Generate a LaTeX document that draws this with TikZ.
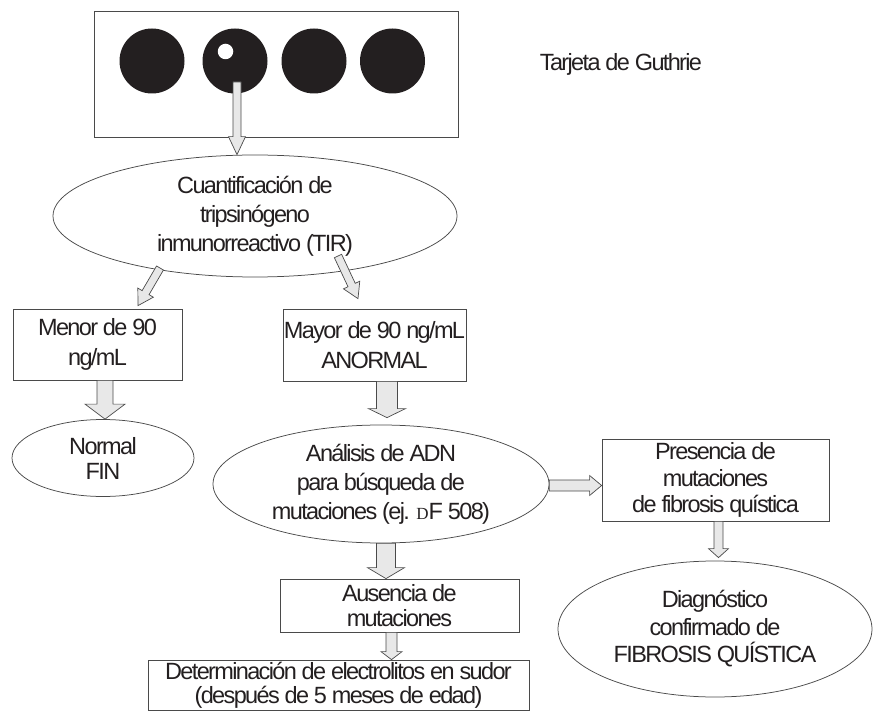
\documentclass[tikz,border=0pt]{standalone}
\usepackage{fontspec}
\setmainfont{Liberation Sans}[LetterSpace=-7]
\newfontfamily\serifD{Liberation Serif}
\usetikzlibrary{calc,shapes.geometric}
\definecolor{ink}{HTML}{231F20}
\definecolor{edge}{HTML}{4A4A4A}
\definecolor{afill}{HTML}{E8E8E8}
\newcommand\txtsize[1]{\fontsize{23.5}{#1}\selectfont}
\begin{document}
\begin{tikzpicture}[x=1pt,y=-1pt,
  box/.style={draw=edge, line width=0.75pt, rectangle, inner sep=0pt, align=center, text=ink},
  oval/.style={draw=edge, line width=0.75pt, ellipse, inner sep=0pt, align=center, text=ink},
  lbl/.style={text=ink, inner sep=0pt, font=\txtsize{26}},
  spot/.style={circle, fill=ink, minimum size=65pt, inner sep=0pt},
  hole/.style={circle, fill=white, minimum size=15.5pt, inner sep=0pt},
  barrow/.style n args={3}{draw=edge, fill=afill, line width=0.7pt, line join=miter,
    to path={let \p1=(\tikztostart), \p2=(\tikztotarget),
      \n1={atan2(\y2-\y1,\x2-\x1)}, \n2={veclen(\x2-\x1,\y2-\y1)-#3} in
      -- ($(\p1)+(\n1+90:#1 pt)$)
      -- ($(\p1)+(\n1:\n2)+(\n1+90:#1 pt)$)
      -- ($(\p1)+(\n1:\n2)+(\n1+90:#2 pt)$)
      -- (\p2)
      -- ($(\p1)+(\n1:\n2)+(\n1-90:#2 pt)$)
      -- ($(\p1)+(\n1:\n2)+(\n1-90:#1 pt)$)
      -- ($(\p1)+(\n1-90:#1 pt)$)
      -- cycle}}
]
\useasboundingbox (0,0) rectangle (873,711);

% Guthrie card
\node[box, minimum width=364, minimum height=126] (card) at (276,74) {};
\node[spot] (s1) at (152,61) {};
\node[spot] (s2) at (235,61) {};
\node[spot] (s3) at (314,61) {};
\node[spot] (s4) at (392.5,61) {};
\node[hole] (h2) at (225.5,51.5) {};
\node[lbl] (tarjeta) at (621,64) {Tarjeta de Guthrie};

% main nodes
\node[oval, minimum width=404, minimum height=122, font=\txtsize{29}] (tir) at (255,216)
  {Cuantificación de\\tripsinógeno\\inmunorreactivo (TIR)};
\node[box, minimum width=169, minimum height=71, font=\txtsize{30}] (menor) at (97.5,344.5)
  {Menor de 90\\ng/mL};
\node[box, minimum width=183, minimum height=72, font=\txtsize{30}] (mayor) at (374.5,345)
  {Mayor de 90 ng/mL\\ANORMAL};
\node[oval, minimum width=182, minimum height=77, font=\txtsize{25}] (normal) at (103,458)
  {Normal\\FIN};
\node[oval, minimum width=336, minimum height=118, font=\txtsize{29}] (dna) at (381,484)
  {Análisis de ADN\\para búsqueda de\\mutaciones (ej. {\serifD\fontsize{17}{17}\selectfont D}F 508)};
\node[box, minimum width=227, minimum height=82, font=\txtsize{26.5}] (pres) at (715.5,480)
  {Presencia de\\mutaciones\\de fibrosis quística};
\node[oval, minimum width=314, minimum height=136, font=\txtsize{27.5}] (diag) at (715,629)
  {Diagnóstico\\confirmado de\\FIBROSIS QUÍSTICA};
\node[box, minimum width=239, minimum height=53, font=\txtsize{25}] (aus) at (399.5,605.5)
  {Ausencia de\\mutaciones};
\node[box, minimum width=381, minimum height=50, font=\txtsize{24}] (det) at (338.5,685)
  {Determinación de electrolitos en sudor\\(después de 5 meses de edad)};

% block arrows
\draw[barrow={4}{8.5}{18}] ($(s2.center)+(2,21)$) to ($(tir.north)+(-18,0)$);
\draw[barrow={4}{9}{15}] ($(tir.center)+(-95,52)$) to ($(menor.north)+(40.5,-3)$);
\draw[barrow={4}{9}{15}] ($(tir.center)+(83,40)$) to ($(mayor.north)+(-16.5,-10)$);
\draw[barrow={8}{20}{15}] ($(menor.south)+(7.5,0)$) to ($(normal.north)+(2,0)$);
\draw[barrow={10.5}{18.5}{9}] ($(mayor.south)+(12.5,0)$) to ($(dna.north)+(6,-7)$);
\draw[barrow={9.5}{18.5}{11}] ($(dna.south)+(5,0)$) to ($(aus.north)+(-13.5,0)$);
\draw[barrow={5.5}{10.5}{8}] ($(aus.south)+(-8,0)$) to ($(det.north)+(53,0)$);
\draw[barrow={5.5}{10}{12}] ($(dna.east)+(0,1.5)$) to ($(pres.west)+(0,5.5)$);
\draw[barrow={4.5}{10}{9}] ($(pres.south)+(3,0)$) to ($(diag.north)+(3.5,-3)$);
\end{tikzpicture}
\end{document}
